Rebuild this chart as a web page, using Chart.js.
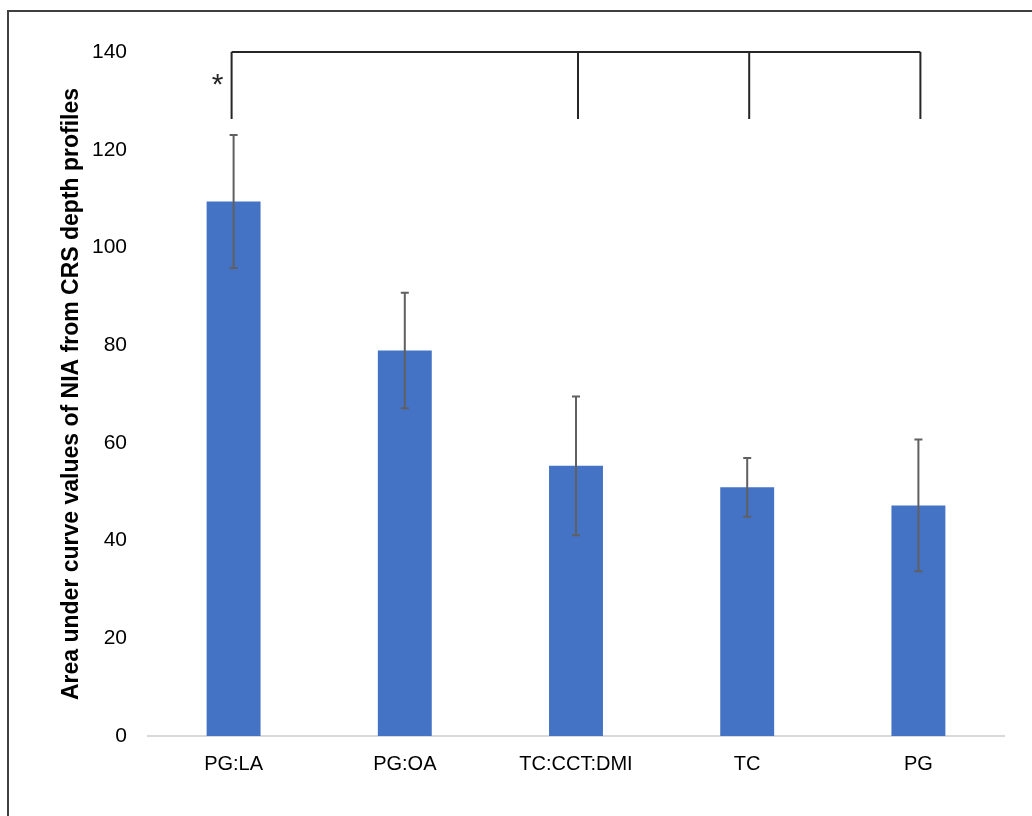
<!DOCTYPE html>
<html>
<head>
<meta charset="utf-8">
<script src="https://cdn.jsdelivr.net/npm/chart.js@4"></script>
<style>
html,body{margin:0;padding:0;background:#fff;}
#wrap{position:relative;width:1032px;height:816px;}
</style>
</head>
<body>
<div id="wrap"><canvas id="c" width="1032" height="816"></canvas></div>
<script>
const categories = ["PG:LA", "PG:OA", "TC:CCT:DMI", "TC", "PG"];
const means = [109.4, 78.9, 55.3, 50.9, 47.2];
const errors = [13.6, 11.8, 14.2, 6.0, 13.5];
const yTicks = [0, 20, 40, 60, 80, 100, 120, 140];
const bracketIndices = [0, 2, 3, 4];
const bracketTop = 140;
const bracketBottom = 126.3;
const starLabel = "*";
const yTitle = "Area under curve values of NIA from CRS depth profiles";

const FONT = "'Liberation Sans', Arial, sans-serif";

const overlay = {
  id: 'overlay',
  beforeDraw(chart) {
    const ctx = chart.ctx;
    ctx.save();
    ctx.strokeStyle = '#404040';
    ctx.lineWidth = 2;
    ctx.beginPath();
    ctx.moveTo(8, 816);
    ctx.lineTo(8, 11);
    ctx.lineTo(1032, 11);
    ctx.stroke();
    ctx.restore();
  },
  afterDatasetsDraw(chart) {
    const ctx = chart.ctx;
    const x = chart.scales.x, y = chart.scales.y;
    ctx.save();
    ctx.strokeStyle = '#606060';
    ctx.lineWidth = 2;
    means.forEach((m, i) => {
      const cx = x.getPixelForValue(i);
      const yt = y.getPixelForValue(m + errors[i]);
      const yb = y.getPixelForValue(m - errors[i]);
      ctx.beginPath();
      ctx.moveTo(cx, yt); ctx.lineTo(cx, yb);
      ctx.moveTo(cx - 4, yt); ctx.lineTo(cx + 4, yt);
      ctx.moveTo(cx - 4, yb); ctx.lineTo(cx + 4, yb);
      ctx.stroke();
    });
    ctx.strokeStyle = '#262626';
    ctx.lineWidth = 2;
    const yT = y.getPixelForValue(bracketTop);
    const yB = y.getPixelForValue(bracketBottom);
    const xs = bracketIndices.map(i => x.getPixelForValue(i) + (i === 0 ? -2 : 2));
    ctx.beginPath();
    ctx.moveTo(xs[0], yT); ctx.lineTo(xs[xs.length - 1], yT);
    xs.forEach(px => { ctx.moveTo(px, yT); ctx.lineTo(px, yB); });
    ctx.stroke();
    ctx.fillStyle = '#262626';
    ctx.font = "30px " + FONT;
    ctx.textAlign = 'center';
    ctx.textBaseline = 'middle';
    ctx.fillText(starLabel, xs[0] - 14, y.getPixelForValue(133.1));
    ctx.restore();
  }
};

new Chart(document.getElementById('c'), {
  type: 'bar',
  data: {
    labels: categories,
    datasets: [{
      data: means,
      backgroundColor: '#4472C4',
      borderWidth: 0,
      barPercentage: 0.63,
      categoryPercentage: 0.5
    }]
  },
  options: {
    responsive: false,
    animation: false,
    devicePixelRatio: 1,
    layout: { padding: { left: 0, right: 28, top: 52, bottom: 0 } },
    plugins: { legend: { display: false }, tooltip: { enabled: false } },
    scales: {
      x: {
        grid: { display: false },
        border: { display: true, color: '#d9d9d9', width: 2 },
        ticks: { color: '#000', font: { family: FONT, size: 20 }, padding: 8 },
        afterFit(s) { s.height = 80; }
      },
      y: {
        min: 0, max: 140,
        afterBuildTicks(s) { s.ticks = yTicks.map(v => ({ value: v })); },
        grid: { display: false },
        border: { display: false },
        ticks: { color: '#000', font: { family: FONT, size: 21 }, padding: 13 },
        title: {
          display: true, text: yTitle, color: '#000',
          font: { family: FONT, size: 23, weight: 'bold' }, padding: { top: 58, bottom: 0 }
        },
        afterFit(s) { s.width = 148; }
      }
    }
  },
  plugins: [overlay]
});
</script>
</body>
</html>
